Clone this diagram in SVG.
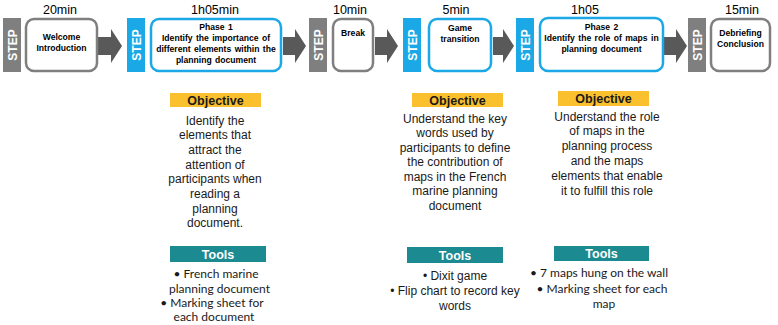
<svg xmlns="http://www.w3.org/2000/svg" width="778" height="325" viewBox="0 0 778 325">
<style>
.bg{fill:#ffffff}
.stepg{fill:#7f7f7f}
.stepb{fill:#1aa9e6}
.boxg{fill:#ffffff;stroke:#7f7f7f;stroke-width:2.5}
.boxb{fill:#ffffff;stroke:#1aa9e6;stroke-width:2.5}
.steptxt{font-family:"Liberation Sans",Arial,sans-serif;font-weight:bold;font-size:12px;fill:#ffffff;text-anchor:middle}
.time{font-family:"Liberation Sans",Arial,sans-serif;font-size:12.5px;fill:#000;text-anchor:middle}
.bt{font-family:"Liberation Sans",Arial,sans-serif;font-weight:bold;font-size:8.6px;fill:#000;text-anchor:middle;word-spacing:1px}
.arrow{fill:#595959}
.obj{fill:#fbc02d}
.tool{fill:#1b8a91}
.objh{font-family:"Liberation Sans",Arial,sans-serif;font-weight:bold;font-size:12.5px;fill:#1a1a1a;text-anchor:middle}
.toolh{font-family:"Liberation Sans",Arial,sans-serif;font-weight:bold;font-size:12.5px;fill:#ffffff;text-anchor:middle}
.ot{font-family:"Liberation Sans",Arial,sans-serif;font-size:12px;fill:#1a1a1a;text-anchor:middle}
.tc{font-family:Lato,"Liberation Sans",sans-serif;font-size:12px;fill:#1a1a1a;text-anchor:middle}
</style>
<rect class="bg" x="0" y="0" width="778" height="325"/>

<g id="connectors">
<path class="arrow" d="M98,37 H111 V29 L122,46 L111,63 V55 H98 Z"/>
<path class="arrow" d="M283,37 H295 V29 L306,46 L295,63 V55 H283 Z"/>
<path class="arrow" d="M375,37 H387 V29 L398,46 L387,63 V55 H375 Z"/>
<path class="arrow" d="M493,37 H503 V29 L514,46 L503,63 V55 H493 Z"/>
<path class="arrow" d="M664,37 H676 V29 L687,46 L676,63 V55 H664 Z"/>
</g>

<g id="step1">
<text class="time" x="60" y="14">20min</text>
<rect class="stepg" x="3" y="18" width="18" height="54"/>
<text class="steptxt" transform="translate(16.5,45) rotate(-90)">STEP</text>
<rect class="boxg" x="26" y="19" width="71" height="52" rx="8"/>
<text class="bt" x="61.5" y="40">Welcome</text>
<text class="bt" x="61.5" y="51">Introduction</text>
</g>

<g id="step2">
<text class="time" x="215" y="14">1h05min</text>
<rect class="stepb" x="127" y="18" width="18" height="54"/>
<text class="steptxt" transform="translate(140.5,45) rotate(-90)">STEP</text>
<rect class="boxb" x="151" y="19" width="130" height="52" rx="8"/>
<text class="bt" x="216" y="30">Phase 1</text>
<text class="bt" x="216" y="41">Identify the importance of</text>
<text class="bt" x="216" y="52">different elements within the</text>
<text class="bt" x="216" y="63">planning document</text>
</g>

<g id="step3">
<text class="time" x="350" y="14">10min</text>
<rect class="stepg" x="309" y="18" width="18" height="54"/>
<text class="steptxt" transform="translate(322.5,45) rotate(-90)">STEP</text>
<rect class="boxg" x="333" y="19" width="40" height="52" rx="8"/>
<text class="bt" x="353" y="36">Break</text>
</g>

<g id="step4">
<text class="time" x="456" y="14">5min</text>
<rect class="stepb" x="403" y="18" width="18" height="54"/>
<text class="steptxt" transform="translate(416.5,45) rotate(-90)">STEP</text>
<rect class="boxb" x="429" y="19" width="62" height="52" rx="8"/>
<text class="bt" x="460" y="31">Game</text>
<text class="bt" x="460" y="42">transition</text>
</g>

<g id="step5">
<text class="time" x="585" y="14">1h05</text>
<rect class="stepb" x="516" y="18" width="18" height="54"/>
<text class="steptxt" transform="translate(529.5,45) rotate(-90)">STEP</text>
<rect class="boxb" x="540" y="18" width="123" height="53" rx="8"/>
<text class="bt" x="601.5" y="30">Phase 2</text>
<text class="bt" x="601.5" y="41">Identify the role of maps in</text>
<text class="bt" x="601.5" y="52">planning document</text>
</g>

<g id="step6">
<text class="time" x="742" y="14">15min</text>
<rect class="stepg" x="688" y="18" width="18" height="54"/>
<text class="steptxt" transform="translate(701.5,45) rotate(-90)">STEP</text>
<rect class="boxg" x="711" y="19" width="59" height="52" rx="8"/>
<text class="bt" x="740.5" y="36">Debriefing</text>
<text class="bt" x="740.5" y="47">Conclusion</text>
</g>

<g id="objective1">
<rect class="obj" x="170" y="93" width="91" height="14"/>
<text class="objh" x="215.5" y="104.5">Objective</text>
<text class="ot" x="215" y="124.5">Identify the</text>
<text class="ot" x="215" y="139.2">elements that</text>
<text class="ot" x="215" y="153.9">attract the</text>
<text class="ot" x="215" y="168.6">attention of</text>
<text class="ot" x="215" y="183.3">participants when</text>
<text class="ot" x="215" y="198">reading a</text>
<text class="ot" x="215" y="212.7">planning</text>
<text class="ot" x="215" y="227.4">document.</text>
</g>

<g id="objective2">
<rect class="obj" x="412" y="93" width="91" height="14"/>
<text class="objh" x="457.5" y="104.5">Objective</text>
<text class="ot" x="455" y="122.5">Understand the key</text>
<text class="ot" x="455" y="137">words used by</text>
<text class="ot" x="455" y="151.5">participants to define</text>
<text class="ot" x="455" y="166">the contribution of</text>
<text class="ot" x="455" y="180.5">maps in the French</text>
<text class="ot" x="455" y="195">marine planning</text>
<text class="ot" x="455" y="209.5">document</text>
</g>

<g id="objective3">
<rect class="obj" x="558" y="91" width="91" height="15"/>
<text class="objh" x="603.5" y="103">Objective</text>
<text class="ot" x="607" y="120.5">Understand the role</text>
<text class="ot" x="607" y="135.4">of maps in the</text>
<text class="ot" x="607" y="150.3">planning process</text>
<text class="ot" x="607" y="165.2">and the maps</text>
<text class="ot" x="607" y="180.1">elements that enable</text>
<text class="ot" x="607" y="195">it to fulfill this role</text>
</g>

<g id="tools1">
<rect class="tool" x="170" y="246" width="96" height="16"/>
<text class="toolh" x="218" y="258.5">Tools</text>
<text class="tc" x="216" y="278">• French marine</text>
<text class="tc" x="219.5" y="292.5">planning document</text>
<text class="tc" x="212" y="307">• Marking sheet for</text>
<text class="tc" x="214" y="321">each document</text>
</g>

<g id="tools2">
<rect class="tool" x="407" y="247" width="96" height="16"/>
<text class="toolh" x="455" y="259.5">Tools</text>
<text class="ot" x="455" y="279.5">• Dixit game</text>
<text class="ot" x="455" y="294.5">• Flip chart to record key</text>
<text class="ot" x="455" y="309.5">words</text>
</g>

<g id="tools3">
<rect class="tool" x="554" y="246" width="95" height="15"/>
<text class="toolh" x="601.5" y="258">Tools</text>
<text class="tc" x="599" y="277">• 7 maps hung on the wall</text>
<text class="tc" x="602" y="293">• Marking sheet for each</text>
<text class="tc" x="604" y="308">map</text>
</g>
</svg>
